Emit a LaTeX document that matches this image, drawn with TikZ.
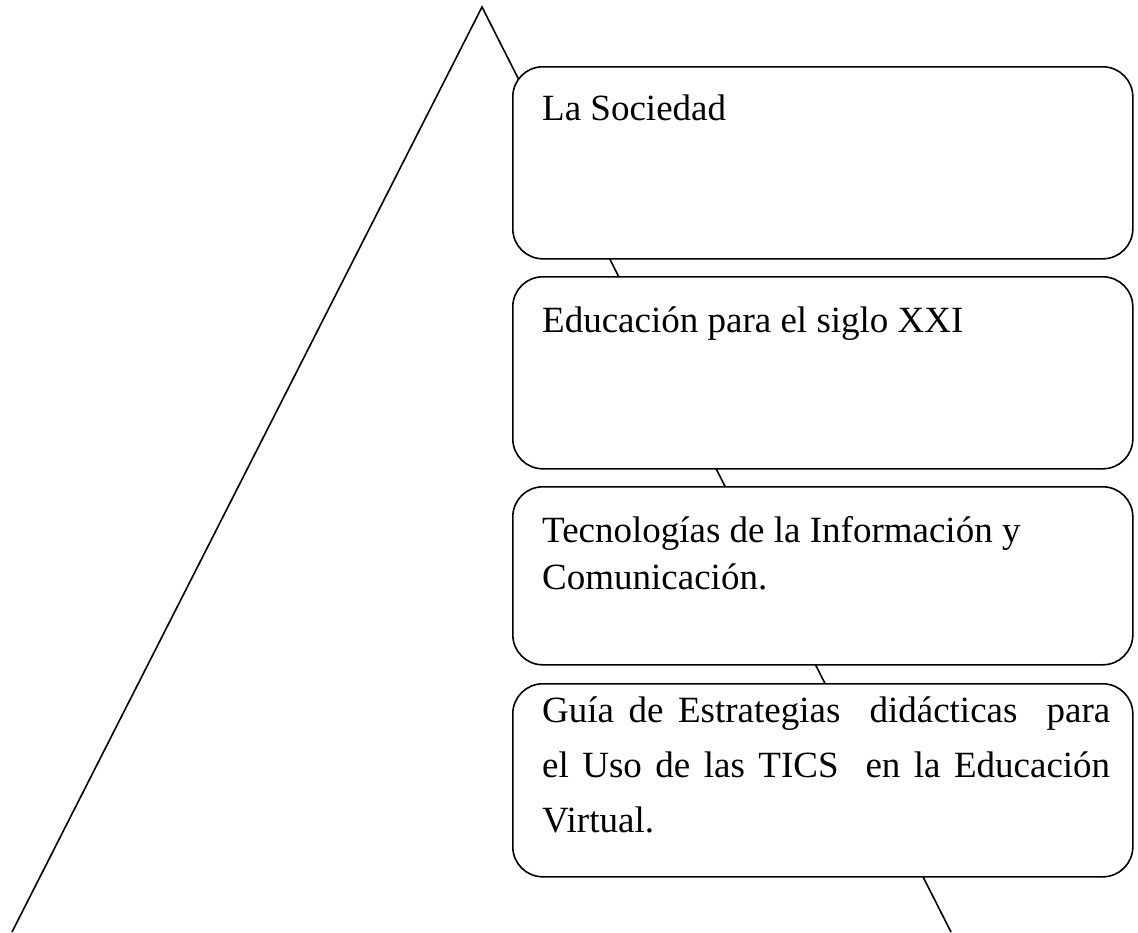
\documentclass[tikz,border=0pt]{standalone}
\usepackage{fontspec}
\setmainfont{Liberation Serif}
\begin{document}
\begin{tikzpicture}[x=1pt,y=-1pt,
  stepbox/.style={draw, line width=1.6pt, fill=white, rounded corners=30pt,
    minimum width=620pt, inner sep=0pt, anchor=north west},
  txt/.style={anchor=base west, inner sep=0pt, font=\fontsize{37}{37}\selectfont},
  edge/.style={line width=1.6pt, line join=miter}]
\useasboundingbox (0,0) rectangle (1138,932);
\coordinate (apex) at (482,7);
\coordinate (bl) at (12,932);
\coordinate (br) at (951,932);
\draw[edge] (bl) -- (apex) -- (br);
\node[stepbox, minimum height=192pt] (b1) at (512,66) {};
\node[stepbox, minimum height=192pt] (b2) at (512,276) {};
\node[stepbox, minimum height=178pt] (b3) at (512,486) {};
\node[stepbox, minimum height=193pt] (b4) at (512,683) {};
\node[txt] (t1) at (542,120) {La Sociedad};
\node[txt] (t2) at (542,332) {Educación para el siglo XXI};
\node[txt] (t3a) at (542,542) {Tecnologías de la Información y};
\node[txt] (t3b) at (542,589) {Comunicación.};
\node[txt] (t4a) at (542,722) {\makebox[568pt][s]{Guía de Estrategias\ \ didácticas\ \ para}};
\node[txt] (t4b) at (542,777) {\makebox[568pt][s]{el Uso de las TICS\ \ en la Educación}};
\node[txt] (t4c) at (542,832) {Virtual.};
\end{tikzpicture}
\end{document}
